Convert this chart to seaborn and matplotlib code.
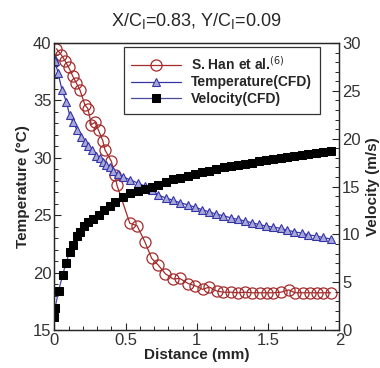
import numpy as np
import pandas as pd
import matplotlib
matplotlib.use("Agg")
import matplotlib.pyplot as plt
import seaborn as sns
from matplotlib.ticker import MultipleLocator

# S. Han et al. (experiment), temperature
han_x = [0.015, 0.05, 0.075, 0.10, 0.13, 0.155, 0.18, 0.215, 0.235, 0.26, 0.285,
         0.31, 0.34, 0.355, 0.40, 0.425, 0.44, 0.53, 0.58, 0.635, 0.683, 0.73,
         0.78, 0.835, 0.88, 0.94, 0.99, 1.04, 1.088, 1.14, 1.186, 1.238, 1.287,
         1.338, 1.39, 1.44, 1.49, 1.537, 1.59, 1.645, 1.69, 1.743, 1.795, 1.84,
         1.888, 1.94]
han_t = [39.5, 38.95, 38.45, 37.9, 37.1, 36.5, 35.9, 34.6, 34.3, 32.9, 33.1,
         32.4, 31.5, 30.7, 29.7, 28.5, 27.6, 24.3, 24.1, 22.7, 21.25, 20.65,
         19.9, 19.45, 19.5, 19.05, 18.85, 18.55, 18.75, 18.4, 18.3, 18.3, 18.25,
         18.3, 18.25, 18.25, 18.25, 18.25, 18.3, 18.5, 18.25, 18.25, 18.25, 18.25,
         18.25, 18.25]

# CFD temperature
temp_x = [0.0, 0.005, 0.026, 0.054, 0.084, 0.108, 0.131, 0.161, 0.19, 0.213,
          0.236, 0.265, 0.295, 0.318, 0.342, 0.365, 0.389, 0.412, 0.445, 0.48,
          0.53, 0.587, 0.635, 0.683, 0.73, 0.784, 0.835, 0.88, 0.94, 0.987,
          1.034, 1.086, 1.135, 1.186, 1.238, 1.287, 1.338, 1.387, 1.434, 1.486,
          1.537, 1.589, 1.635, 1.684, 1.736, 1.78, 1.834, 1.883, 1.94]
temp_t = [38.7, 38.4, 37.4, 35.9, 34.9, 33.7, 33.1, 32.4, 31.8, 31.4,
          31.0, 30.7, 30.2, 29.95, 29.65, 29.4, 29.2, 28.9, 28.6, 28.35,
          28.1, 27.8, 27.55, 27.2, 26.76, 26.5, 26.3, 26.1, 25.9, 25.7,
          25.5, 25.3, 25.1, 24.96, 24.78, 24.64, 24.5, 24.35, 24.2, 24.06,
          23.97, 23.86, 23.7, 23.56, 23.45, 23.3, 23.2, 23.07, 22.93]

# CFD velocity
vel_x = [0.0, 0.005, 0.03, 0.058, 0.082, 0.108, 0.131, 0.16, 0.182, 0.208,
         0.236, 0.27, 0.31, 0.35, 0.39, 0.426, 0.48, 0.53, 0.585, 0.637,
         0.683, 0.73, 0.784, 0.83, 0.88, 0.94, 0.987, 1.034, 1.086, 1.135,
         1.19, 1.238, 1.287, 1.338, 1.387, 1.434, 1.486, 1.537, 1.589, 1.635,
         1.684, 1.736, 1.78, 1.834, 1.883, 1.94]
vel_v = [1.4, 2.3, 4.1, 5.75, 7.0, 8.2, 8.9, 9.8, 10.3, 10.9,
         11.3, 11.6, 12.0, 12.5, 13.0, 13.4, 13.9, 14.3, 14.55, 14.7,
         14.98, 15.2, 15.5, 15.74, 15.9, 16.1, 16.3, 16.5, 16.65, 16.8,
         17.0, 17.14, 17.24, 17.4, 17.5, 17.66, 17.76, 17.87, 18.0, 18.08,
         18.18, 18.29, 18.39, 18.5, 18.6, 18.7]

sns.set_style("ticks")
plt.rcParams['font.family'] = ['Liberation Sans', 'DejaVu Sans']
plt.rcParams['xtick.direction'] = 'in'
plt.rcParams['ytick.direction'] = 'in'

fig = plt.figure(figsize=(3.8, 3.68), dpi=100)
ax = fig.add_axes([0.143, 0.103, 0.75, 0.78])
ax2 = ax.twinx()

red = '#a52a2a'
blue = '#3535a8'

sns.lineplot(x=han_x, y=han_t, ax=ax, color=red, lw=0.9, marker='o', ms=8,
             mfc='none', mec=red, mew=0.9, sort=False, label='S. Han et al.$^{(6)}$',
             legend=False)
sns.lineplot(x=temp_x, y=temp_t, ax=ax, color=blue, lw=0.9, marker='^', ms=6,
             mfc='#a8a8d8', mec=blue, mew=0.8, sort=False, label='Temperature(CFD)',
             legend=False)
sns.lineplot(x=vel_x, y=vel_v, ax=ax2, color='#4a4a9a', lw=0.9, marker='s', ms=5.5,
             mfc='black', mec='black', sort=False, label='Velocity(CFD)',
             legend=False)

ax.set_xlim(0, 2)
ax.set_ylim(15, 40)
ax2.set_ylim(0, 30)
ax.xaxis.set_major_locator(MultipleLocator(0.5))
ax.xaxis.set_minor_locator(MultipleLocator(0.1))
ax.yaxis.set_major_locator(MultipleLocator(5))
ax.yaxis.set_minor_locator(MultipleLocator(1))
ax2.yaxis.set_major_locator(MultipleLocator(5))
ax2.yaxis.set_minor_locator(MultipleLocator(1))
ax.set_xticks([0, 0.5, 1, 1.5, 2])
ax.set_xticklabels(['0', '0.5', '1', '1.5', '2'])

for a in (ax, ax2):
    a.tick_params(which='major', length=5, width=0.8, labelsize=12, pad=2,
                  labelcolor='#333333')
    a.tick_params(which='minor', length=3, width=0.7)
    for s in a.spines.values():
        s.set_linewidth(0.9)
ax2.tick_params(axis='y', which='both', direction='in')

ax.set_xlabel('Distance (mm)', fontsize=11, fontweight='bold', labelpad=0)
ax.set_ylabel('Temperature (\u00b0C)', fontsize=11, fontweight='bold', labelpad=2)
ax2.set_ylabel('Velocity (m/s)', fontsize=11, fontweight='bold', labelpad=4)
ax.set_title('X/C$_\\mathrm{l}$=0.83, Y/C$_\\mathrm{l}$=0.09', fontsize=13, pad=12)

h1, l1 = ax.get_legend_handles_labels()
h2, l2 = ax2.get_legend_handles_labels()
leg = ax2.legend(h1 + h2, l1 + l2, loc='upper right', bbox_to_anchor=(0.955, 1.01),
                 frameon=True, fancybox=False, edgecolor='black', handlelength=3.6,
                 borderpad=0.55, labelspacing=0.2, handletextpad=0.7,
                 prop={'weight': 'bold', 'size': 10, 'stretch': 'condensed'})
leg.get_frame().set_linewidth(0.9)

fig.savefig('out.png', dpi=100)
